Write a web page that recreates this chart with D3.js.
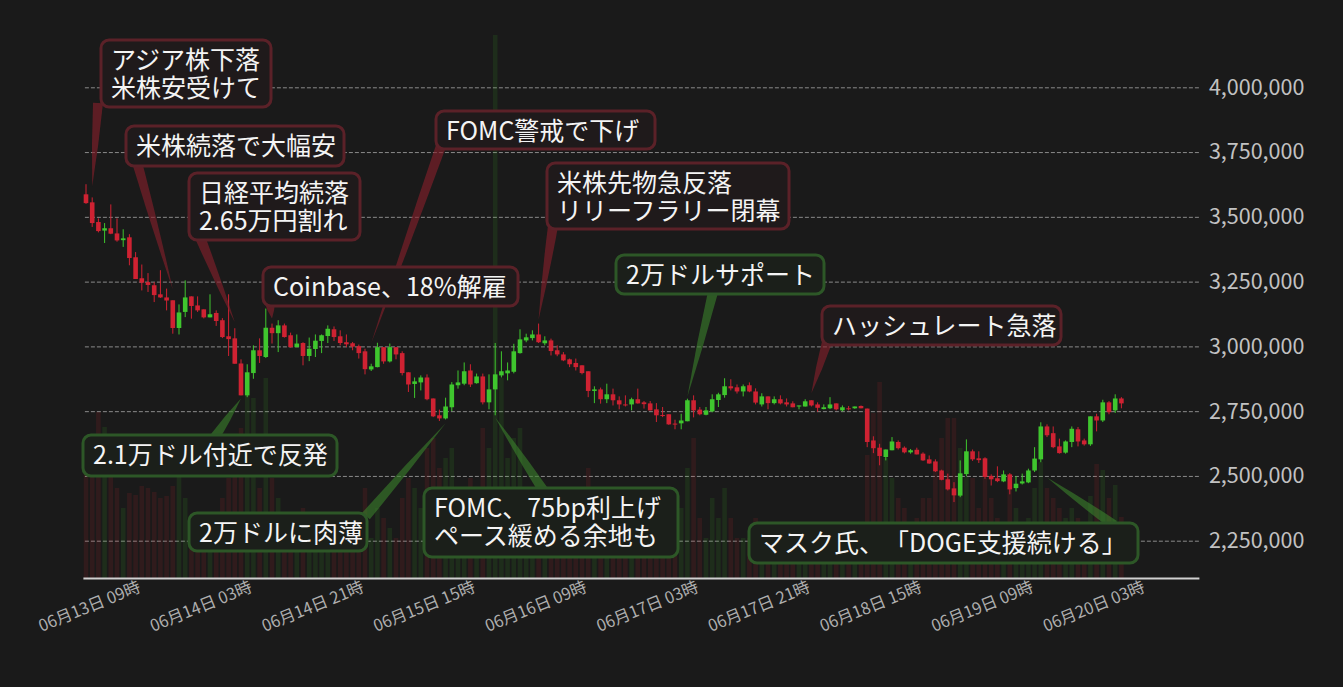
<!DOCTYPE html>
<html><head><meta charset="utf-8">
<script src="https://cdn.jsdelivr.net/npm/d3@7/dist/d3.min.js"></script>
<style>
html,body{margin:0;padding:0;background:#1a1a1a;}
svg{display:block;}
text{text-spacing-trim: space-all;}
</style>
</head><body>
<svg id="chart" width="1343" height="687"></svg>
<script>
// ---------------- DATA ----------------
const opens  = [3587000,3556000,3480000,3447000,3456000,3436000,3410000,3421000,3344000,3263000,3248000,3236000,3201000,3189000,3178000,3071000,3133000,3193000,3158000,3143000,3112000,3129000,3101000,3039000,3031000,2934000,2811000,2897000,2985000,2959000,3072000,3051000,3081000,3043000,2997000,3013000,2963000,2990000,3021000,3040000,3066000,3039000,3016000,3012000,3001000,2981000,2911000,2920000,2997000,2942000,2997000,2974000,2900000,2855000,2861000,2880000,2799000,2734000,2722000,2765000,2850000,2856000,2907000,2858000,2884000,2784000,2834000,2888000,2896000,2902000,2974000,3023000,3032000,3046000,3012000,3023000,2985000,2969000,2950000,2936000,2927000,2904000,2828000,2834000,2796000,2815000,2792000,2776000,2776000,2796000,2784000,2780000,2757000,2735000,2738000,2702000,2703000,2711000,2792000,2756000,2736000,2749000,2793000,2812000,2846000,2842000,2826000,2850000,2826000,2776000,2807000,2781000,2796000,2784000,2780000,2768000,2768000,2792000,2776000,2758000,2761000,2780000,2753000,2761000,2761000,2770000,2760000,2637000,2609000,2573000,2599000,2631000,2609000,2591000,2601000,2586000,2564000,2556000,2521000,2487000,2452000,2424000,2507000,2595000,2568000,2568000,2500000,2491000,2479000,2506000,2453000,2471000,2475000,2521000,2564000,2691000,2665000,2614000,2590000,2631000,2680000,2637000,2622000,2730000,2714000,2784000,2753000,2799000];
const highs  = [3626000,3575000,3494000,3476000,3548000,3494000,3452000,3433000,3364000,3316000,3283000,3248000,3294000,3223000,3178000,3162000,3255000,3193000,3193000,3143000,3201000,3139000,3109000,3201000,3070000,2950000,2931000,3004000,3031000,3146000,3088000,3101000,3088000,3053000,3046000,3016000,3034000,3046000,3046000,3081000,3077000,3062000,3046000,3017000,3007000,2991000,2933000,3014000,2997000,3011000,2997000,2981000,2900000,2880000,2888000,2892000,2799000,2756000,2802000,2862000,2907000,2938000,2931000,2895000,2895000,2892000,3013000,2981000,2938000,3010000,3066000,3049000,3062000,3088000,3039000,3030000,3004000,2978000,2953000,2953000,2927000,2904000,2846000,2841000,2856000,2837000,2807000,2811000,2802000,2837000,2789000,2789000,2781000,2766000,2738000,2717000,2740000,2798000,2811000,2766000,2766000,2815000,2821000,2877000,2873000,2853000,2853000,2861000,2838000,2819000,2807000,2807000,2811000,2799000,2788000,2772000,2796000,2792000,2784000,2776000,2804000,2780000,2772000,2770000,2768000,2772000,2760000,2653000,2624000,2602000,2650000,2637000,2614000,2604000,2609000,2591000,2579000,2564000,2524000,2509000,2476000,2560000,2641000,2602000,2595000,2572000,2506000,2537000,2521000,2511000,2499000,2509000,2528000,2611000,2707000,2699000,2691000,2644000,2637000,2691000,2689000,2644000,2730000,2740000,2794000,2789000,2815000,2804000];
const lows   = [3550000,3461000,3440000,3399000,3433000,3404000,3384000,3313000,3260000,3216000,3210000,3171000,3187000,3139000,3049000,3046000,3113000,3107000,3133000,3108000,3112000,3079000,3032000,2963000,2933000,2811000,2804000,2875000,2936000,2955000,3011000,2978000,3034000,2995000,2997000,2927000,2943000,2959000,2974000,3013000,3021000,3004000,2997000,2985000,2953000,2892000,2905000,2919000,2933000,2938000,2950000,2888000,2824000,2801000,2830000,2792000,2727000,2712000,2718000,2750000,2837000,2850000,2843000,2856000,2776000,2757000,2734000,2880000,2869000,2896000,2972000,3016000,3023000,3013000,3004000,2965000,2962000,2943000,2920000,2907000,2892000,2804000,2781000,2779000,2781000,2772000,2757000,2768000,2753000,2779000,2760000,2753000,2708000,2727000,2697000,2680000,2680000,2711000,2726000,2734000,2734000,2746000,2766000,2802000,2830000,2818000,2807000,2823000,2776000,2768000,2757000,2776000,2776000,2768000,2765000,2757000,2768000,2768000,2748000,2757000,2758000,2753000,2749000,2753000,2759000,2761000,2611000,2588000,2541000,2560000,2599000,2602000,2587000,2586000,2583000,2558000,2547000,2515000,2483000,2444000,2399000,2418000,2498000,2558000,2550000,2489000,2463000,2476000,2476000,2429000,2440000,2467000,2472000,2515000,2553000,2650000,2607000,2586000,2586000,2611000,2614000,2617000,2616000,2672000,2708000,2738000,2743000,2761000];
const closes = [3553000,3476000,3445000,3456000,3435000,3409000,3417000,3341000,3260000,3246000,3237000,3198000,3189000,3177000,3071000,3131000,3189000,3156000,3139000,3112000,3124000,3098000,3036000,3028000,2933000,2811000,2900000,2985000,2963000,3072000,3051000,3081000,3036000,2997000,3011000,2963000,2991000,3022000,3043000,3068000,3036000,3013000,3008000,2999000,2974000,2912000,2923000,2997000,2942000,2997000,2969000,2897000,2853000,2865000,2880000,2796000,2730000,2722000,2768000,2853000,2861000,2904000,2853000,2884000,2784000,2834000,2892000,2904000,2907000,2981000,3027000,3035000,3046000,3016000,3023000,2982000,2969000,2946000,2931000,2920000,2897000,2828000,2834000,2796000,2815000,2792000,2776000,2774000,2796000,2780000,2777000,2753000,2734000,2733000,2699000,2699000,2714000,2792000,2753000,2738000,2753000,2796000,2815000,2846000,2838000,2826000,2846000,2826000,2783000,2807000,2781000,2796000,2780000,2776000,2765000,2772000,2788000,2772000,2763000,2765000,2776000,2757000,2765000,2760000,2768000,2761000,2631000,2607000,2577000,2602000,2633000,2607000,2591000,2599000,2583000,2560000,2548000,2518000,2485000,2448000,2425000,2510000,2595000,2564000,2561000,2496000,2487000,2480000,2506000,2448000,2470000,2479000,2521000,2567000,2691000,2657000,2611000,2588000,2633000,2682000,2633000,2622000,2730000,2714000,2784000,2746000,2799000,2780000];
const volumes = [110,140,166,151,113,90,70,85,83,92,90,86,80,82,92,101,80,60,55,50,45,60,80,100,110,150,190,180,90,200,100,80,60,60,40,70,50,45,40,50,45,40,35,30,45,90,40,70,60,50,40,80,100,90,70,130,140,110,120,130,80,90,100,60,150,130,543,200,120,140,150,80,70,90,50,70,50,50,45,40,50,110,70,70,60,50,50,40,40,50,30,40,70,40,80,60,70,110,140,60,40,80,60,90,60,40,40,40,60,40,40,30,30,30,30,20,30,25,30,20,30,25,20,15,15,20,123,165,196,120,100,80,70,50,60,80,80,110,140,160,160,130,101,100,70,100,80,60,50,90,70,50,60,90,116,90,80,70,60,70,60,50,82,114,108,80,93,61];

const yTicks = [2250000,2500000,2750000,3000000,3250000,3500000,3750000,4000000];
const xTickLabels = ["06月13日 09時","06月14日 03時","06月14日 21時","06月15日 15時","06月16日 09時","06月17日 03時","06月17日 21時","06月18日 15時","06月19日 09時","06月20日 03時"];

// annotations: text lines, colour, box (layout), wedge base (layout), tip anchored in data space
const annotations = [
  {lines:["アジア株下落","米株安受けて"], tone:"red",   box:[101,40,170,67],  base:[98,103],   tip:{i:1,  p:3618000}},
  {lines:["米株続落で大幅安"],            tone:"red",   box:[126,126,218,40], base:[137,162],  tip:{i:14, p:3220000}},
  {lines:["日経平均続落","2.65万円割れ"], tone:"red",   box:[189,173,171,67], base:[200,237],  tip:{i:24, p:3093000}},
  {lines:["Coinbase、18%解雇"],          tone:"red",   box:[263,267,255,39], base:[270,303],  tip:{i:30, p:3108000}},
  {lines:["FOMC警戒で下げ"],              tone:"red",   box:[436,111,219,38], base:[441,146],  tip:{i:46, p:3012000}},
  {lines:["米株先物急反落","リリーフラリー閉幕"], tone:"red", box:[547,163,242,66], base:[553,226], tip:{i:73, p:3104000}},
  {lines:["ハッシュレート急落"],          tone:"red",   box:[822,306,239,39], base:[827,342],  tip:{i:117,p:2819000}},
  {lines:["2万ドルサポート"],             tone:"green", box:[616,255,208,39], base:[713,292],  tip:{i:97, p:2807000}},
  {lines:["2.1万ドル付近で反発"],         tone:"green", box:[83,435,254,41],  base:[215,437],  tip:{i:25, p:2799000}},
  {lines:["2万ドルに肉薄"],               tone:"green", box:[189,513,178,38], base:[366,516],  tip:{i:58, p:2703000}},
  {lines:["FOMC、75bp利上げ","ペース緩める余地も"], tone:"green", box:[424,488,254,69], base:[543,490], tip:{i:66, p:2726000}},
  {lines:["マスク氏、「DOGE支援続ける」"], tone:"green", box:[749,523,389,40], base:[1114,525], tip:{i:155,p:2494000}}
];

// ---------------- CHART ----------------
const W = 1343, H = 687;
const plotLeft = 82.9, plotRight = 1198.9, plotTop = 35, plotBottom = 578;
const svg = d3.select("#chart");
svg.append("rect").attr("width",W).attr("height",H).attr("fill","#1a1a1a");

const start = new Date(2022,5,13,1);
const hours = d3.timeHour.range(start, d3.timeHour.offset(start,180));
const fmt = d3.timeFormat("%m月%d日 %H時");
const categories = hours.map(fmt);

const x = d3.scaleBand().domain(categories).range([plotLeft, plotRight]).padding(0);
const bw = x.bandwidth();
const cx = i => x(categories[i]) + bw/2;

const y = d3.scaleLinear().domain([2250000,4000000]).range([540.7,87.3]);
const yv = d3.scaleLinear().domain([0, d3.max(volumes)]).range([plotBottom, plotTop]);

const candles = opens.map((o,i)=>({i, o, h:highs[i], l:lows[i], c:closes[i], v:volumes[i], up: closes[i] >= o}));

const RED = "#cf2232", GREEN = "#3fc62e";

// grid + right axis
const yAxis = d3.axisRight(y).tickValues(yTicks).tickFormat(d3.format(",")).tickSize(-(plotRight-plotLeft)).tickPadding(10);
const gy = svg.append("g").attr("transform",`translate(${plotRight},0)`).call(yAxis);
gy.select(".domain").remove();
gy.selectAll(".tick line").attr("stroke","#8a8a8a").attr("stroke-dasharray","4,2").attr("stroke-width",1);
gy.selectAll(".tick text").attr("fill","#c2c2c2").attr("font-size","21.5px").attr("font-family","'Noto Sans CJK JP', sans-serif");

// volume bars
svg.append("g").selectAll("rect").data(candles).join("rect")
  .attr("x", d=>cx(d.i)-2.3).attr("width",4.6)
  .attr("y", d=>yv(d.v)).attr("height", d=>plotBottom-yv(d.v))
  .attr("fill", d=>d.up ? "rgba(60,200,40,0.11)" : "rgba(200,35,50,0.13)");

// candles
const gc = svg.append("g");
gc.selectAll("line").data(candles).join("line")
  .attr("x1",d=>cx(d.i)).attr("x2",d=>cx(d.i))
  .attr("y1",d=>y(d.h)).attr("y2",d=>y(d.l))
  .attr("stroke",d=>d.up?GREEN:RED).attr("stroke-width",1);
gc.selectAll("rect").data(candles).join("rect")
  .attr("x",d=>cx(d.i)-2.3).attr("width",4.6)
  .attr("y",d=>y(Math.max(d.o,d.c)))
  .attr("height",d=>Math.max(1, Math.abs(y(d.o)-y(d.c))))
  .attr("fill",d=>d.up?GREEN:RED);

// x axis
const xAxis = d3.axisBottom(x).tickValues(xTickLabels).tickSize(0).tickPadding(0);
const gx = svg.append("g").attr("transform",`translate(0,${plotBottom})`).call(xAxis);
gx.select(".domain").attr("stroke","#d0d0d0").attr("stroke-width",2);
gx.selectAll(".tick text")
  .attr("fill","#aeaeae").attr("font-size","16.5px").attr("font-family","'Noto Sans CJK JP', sans-serif")
  .attr("text-anchor","end").attr("x",0).attr("y",0).attr("dy","0.35em")
  .attr("transform","translate(4,8) rotate(-22)");

// annotations
const tones = {
  red:   {wedge:"rgba(135,32,44,0.62)", stroke:"#5b2128", fill:"#1f1a1b"},
  green: {wedge:"rgba(58,128,44,0.62)", stroke:"#2d5727", fill:"#1b1f1a"}
};
function wedgePath(bx,by,tx,ty,w){
  const dx=tx-bx, dy=ty-by, len=Math.hypot(dx,dy);
  const nx=-dy/len*w/2, ny=dx/len*w/2;
  const mx=bx+dx*0.5, my=by+dy*0.5;
  return `M${bx+nx},${by+ny} Q${mx+nx*0.75},${my+ny*0.75} ${tx},${ty} Q${mx-nx*0.75},${my-ny*0.75} ${bx-nx},${by-ny} Z`;
}
const ga = svg.append("g");
annotations.forEach(a=>{
  const t = tones[a.tone];
  ga.append("path").attr("d", wedgePath(a.base[0],a.base[1], cx(a.tip.i), y(a.tip.p), 10)).attr("fill",t.wedge);
});
annotations.forEach(a=>{
  const t = tones[a.tone];
  const [bx,by,bwid,bh] = a.box;
  ga.append("rect").attr("x",bx).attr("y",by).attr("width",bwid).attr("height",bh)
    .attr("rx",8).attr("ry",8).attr("fill",t.fill).attr("stroke",t.stroke).attr("stroke-width",3);
  const tx = ga.append("text").attr("fill","#f4f4f4").attr("font-size","25px")
      .attr("font-family","'Noto Sans CJK JP', sans-serif");
  a.lines.forEach((ln,k)=>{
    tx.append("tspan").attr("x",bx+10).attr("y",by+29+k*28).text(ln);
  });
});
</script>
</body></html>
